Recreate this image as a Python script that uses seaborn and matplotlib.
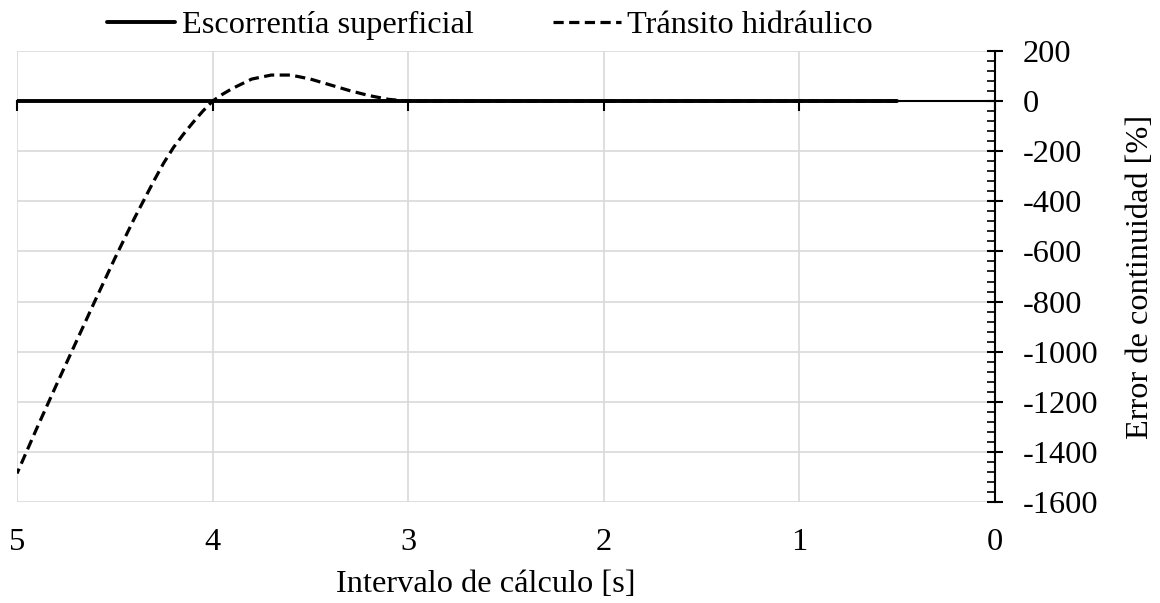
import matplotlib
matplotlib.use("Agg")
import matplotlib.pyplot as plt
from matplotlib.ticker import MultipleLocator
import pandas as pd
import seaborn as sns

# Continuity error per calculation interval
intervalo_transito = [5.0, 4.9, 4.8, 4.7, 4.6, 4.5, 4.4, 4.3, 4.25, 4.2, 4.15,
                      4.1, 4.05, 4.0, 3.95, 3.9, 3.8, 3.7, 3.6, 3.5, 3.4, 3.3,
                      3.2, 3.1, 3.0, 2.5, 2.0, 1.5, 1.0, 0.5]
error_transito = [-1486, -1308, -1135, -965, -795, -628, -468, -318, -247, -185,
                  -133, -85, -40, 0, 27, 50, 88, 104, 104, 88, 65, 42,
                  22, 7, 0, 0, 0, 0, 0, 0]

intervalo_escorrentia = [5.0, 4.5, 4.0, 3.5, 3.0, 2.5, 2.0, 1.5, 1.0, 0.5]
error_escorrentia = [0, 0, 0, 0, 0, 0, 0, 0, 0, 0]

x_ticks = [5, 4, 3, 2, 1, 0]
y_ticks = [200, 0, -200, -400, -600, -800, -1000, -1200, -1400, -1600]

serie_escorrentia = "Escorrentía superficial"
serie_transito = "Tránsito hidráulico"
x_label = "Intervalo de cálculo [s]"
y_label = "Error de continuidad [%]"

FS = 23.3

sns.set_theme(style="white")
plt.rcParams["font.family"] = ["Liberation Serif", "DejaVu Serif"]
plt.rcParams["font.size"] = FS
plt.rcParams["text.color"] = "black"

df_esc = pd.DataFrame({"x": intervalo_escorrentia, "y": error_escorrentia})
df_tra = pd.DataFrame({"x": intervalo_transito, "y": error_transito})

W, H = 1160, 603
fig = plt.figure(figsize=(W / 100, H / 100), dpi=100)
ax = fig.add_axes([17 / W, 1 - 502 / H, (995 - 17) / W, (502 - 51) / H])

grid_c = "#d9d9d9"
ax.set_xlim(5, 0)
ax.set_ylim(-1600, 200)
ax.set_xticks(x_ticks)
ax.set_yticks(y_ticks)
ax.set_yticklabels([str(v) for v in y_ticks])
ax.yaxis.set_minor_locator(MultipleLocator(40))
ax.grid(True, which="major", color=grid_c, linewidth=1.2)
ax.set_axisbelow(True)

for side in ["left", "top"]:
    ax.spines[side].set_visible(False)
ax.spines["right"].set_color("black")
ax.spines["right"].set_linewidth(1.5)
# horizontal axis line crosses at zero
ax.spines["bottom"].set_position(("data", 0))
ax.spines["bottom"].set_color("black")
ax.spines["bottom"].set_linewidth(1.5)

ax.yaxis.tick_right()
ax.yaxis.set_label_position("right")
ax.tick_params(axis="y", which="major", direction="inout", length=12, width=1.5,
               color="black", pad=14, labelsize=FS, labelcolor="black")
ax.tick_params(axis="y", which="minor", direction="in", length=5.5, width=1.2,
               color="black", right=True, left=False)
ax.tick_params(axis="x", which="major", direction="out", length=7, width=1.5,
               color="black", labelbottom=False, bottom=True)

sns.lineplot(data=df_esc, x="x", y="y", ax=ax, color="black", linewidth=2.8,
             label=serie_escorrentia, zorder=4, legend=False)
sns.lineplot(data=df_tra, x="x", y="y", ax=ax, color="black", linewidth=2.3,
             linestyle=(0, (3.2, 1.7)), label=serie_transito, zorder=5,
             legend=False)
ax.set_xlabel("")
ax.set_ylabel(y_label, fontsize=FS, labelpad=20, color="black")

# category labels and axis title sit below the plot area
sec = ax.secondary_xaxis("bottom")
sec.set_xticks(x_ticks)
sec.set_xticklabels([str(v) for v in x_ticks])
sec.spines["bottom"].set_visible(False)
sec.tick_params(axis="x", length=0, pad=19, labelsize=FS, labelcolor="black")
sec.set_xlabel(x_label, fontsize=FS, color="black")
sec.xaxis.set_label_coords((486 - 17) / (995 - 17), (502 - 585) / (502 - 51),
                           transform=ax.transAxes)
sec.xaxis.label.set_va("center")

leg_handles = [l for l in ax.get_lines()
               if l.get_label() in (serie_escorrentia, serie_transito)]
fig.legend(handles=leg_handles, labels=[serie_escorrentia, serie_transito],
           loc="center", bbox_to_anchor=(490 / W, 1 - 25 / H), ncol=2,
           frameon=False, fontsize=FS, handlelength=2.1, handletextpad=0.2,
           columnspacing=2.45)

fig.savefig("out.png", dpi=100)
